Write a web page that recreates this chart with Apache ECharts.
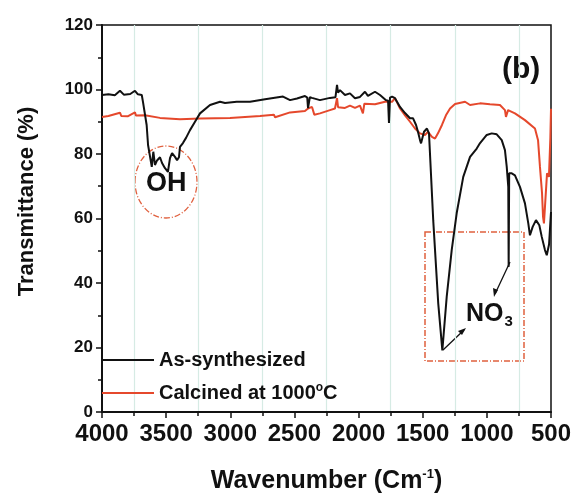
<!DOCTYPE html>
<html>
<head>
<meta charset="utf-8">
<script src="https://cdn.jsdelivr.net/npm/echarts@6/dist/echarts.min.js"></script>
<style>
  html, body { margin: 0; padding: 0; background: #fff; }
  #main { width: 577px; height: 503px; }
</style>
</head>
<body>
<div id="main"></div>
<script>
// FTIR spectra, wavenumber (cm-1) vs transmittance (%)
const asSynthWn = [4000, 3950, 3900, 3860, 3830, 3780, 3743, 3720, 3690, 3680, 3652, 3641, 3612, 3600, 3587, 3571, 3548, 3532, 3509, 3486, 3470, 3454, 3431, 3415, 3400, 3392, 3369, 3345, 3314, 3275, 3236, 3158, 3080, 3041, 2950, 2846, 2729, 2589, 2534, 2480, 2418, 2400, 2394, 2380, 2363, 2301, 2223, 2180, 2168, 2160, 2145, 2106, 2067, 2028, 1989, 1950, 1927, 1872, 1833, 1786, 1770, 1763, 1755, 1739, 1716, 1677, 1638, 1599, 1576, 1552, 1537, 1521, 1513, 1490, 1467, 1451, 1418, 1379, 1347, 1313, 1274, 1235, 1184, 1131, 1079, 1053, 1001, 962, 923, 884, 859, 845, 833, 830, 826, 806, 781, 742, 703, 677, 664, 643, 617, 591, 572, 547, 533, 515, 500];
const asSynthT = [98.3, 98.5, 98.2, 99.6, 98.4, 98.6, 99.6, 98.5, 98.3, 96, 89, 82.8, 76, 80.7, 76.6, 78, 79, 77.2, 75.6, 74.5, 78.7, 80.3, 79.1, 78.1, 79, 82.2, 83.4, 85, 87.4, 90, 92.6, 95.2, 96.2, 95.8, 96.2, 96.2, 97, 97.8, 96.7, 97.2, 98, 97.5, 94.2, 97.6, 97.4, 96.7, 97.4, 97.6, 101.4, 99, 99.8, 98.3, 98.8, 97.3, 97.7, 99.3, 98, 99.3, 98.3, 96.7, 96.5, 89.6, 97.5, 97.8, 97.3, 94.6, 92.7, 91.1, 91.1, 89, 86.9, 84.3, 83.3, 86.9, 87.9, 86.4, 59.4, 33.7, 19.1, 35.7, 50.2, 61.7, 72.9, 79.1, 81.7, 83.4, 85.9, 86.4, 86.1, 84.3, 81.2, 76, 69.8, 45, 74, 74, 73.4, 69.8, 64.7, 58.5, 54.8, 57.4, 59.5, 57.9, 54.3, 50.2, 48.6, 52, 62];

const calcinedWn = [4000, 3950, 3860, 3850, 3800, 3743, 3735, 3665, 3548, 3392, 3236, 3002, 2768, 2660, 2651, 2534, 2418, 2394, 2363, 2345, 2301, 2223, 2184, 2168, 2160, 2106, 2067, 2028, 1989, 1966, 1955, 1872, 1794, 1739, 1716, 1700, 1677, 1638, 1599, 1560, 1521, 1482, 1459, 1428, 1404, 1381, 1350, 1319, 1287, 1248, 1170, 1131, 1053, 976, 898, 859, 851, 835, 781, 703, 625, 601, 586, 570, 562, 555, 547, 531, 516, 505, 500];
const calcinedT = [91.5, 91.8, 92.8, 91.8, 91.7, 92.9, 91.9, 92, 91.2, 90.8, 91, 91.2, 91.8, 92.2, 91.4, 92.9, 93.3, 94.1, 94.6, 92.2, 92.6, 93.6, 94.1, 97.3, 94.5, 94.3, 95, 94.3, 95, 92.6, 95.6, 95.4, 96.2, 96.2, 97.3, 96, 94.1, 92, 90, 87.9, 86.4, 85.9, 86.9, 85.3, 84.8, 86.4, 89, 92, 94.1, 95.5, 96.2, 95.2, 95.7, 95.4, 95.2, 93.6, 91.5, 93.6, 92.6, 90.5, 87.9, 84.3, 76, 67.9, 60.5, 58.5, 63.6, 74, 72.9, 85, 94];

const seriesNames = ['As-synthesized', 'Calcined at 1000°C'];

const zip = (xs, ys) => xs.map((x, i) => [x, ys[i]]);
const FONT = 'Arial, "Liberation Sans", sans-serif';
const RED = '#e5482c';
const ANNO = '#e0603e';

const chart = echarts.init(document.getElementById('main'), null, { renderer: 'canvas' });

chart.setOption({
  backgroundColor: '#fff',
  animation: false,
  textStyle: { fontFamily: FONT },
  grid: {
    left: 102, right: 26, top: 25, bottom: 91,
    show: true, borderColor: '#111', borderWidth: 1.5,
    containLabel: false
  },
  legend: {
    orient: 'vertical',
    left: 102, top: 350, padding: 0,
    icon: 'rect',
    itemWidth: 52, itemHeight: 2, itemGap: 12,
    data: seriesNames,
    formatter: name => name.replace('°', '{sup|o}'),
    textStyle: {
      fontFamily: FONT, fontSize: 20, fontWeight: 'bold', color: '#111',
      rich: { sup: { fontFamily: FONT, fontSize: 12, fontWeight: 'bold', color: '#111', padding: [0, 0, 10, 0] } }
    }
  },
  xAxis: {
    type: 'value', inverse: true, min: 500, max: 4000, interval: 500,
    name: 'Wavenumber (Cm{sup|-1})',
    nameLocation: 'middle', nameGap: 56,
    nameTextStyle: {
      fontFamily: FONT, fontSize: 25, fontWeight: 'bold', color: '#111',
      rich: { sup: { fontFamily: FONT, fontSize: 13, fontWeight: 'bold', color: '#111', padding: [0, 0, 14, 0] } }
    },
    axisLine: { onZero: false, lineStyle: { color: '#111', width: 2 } },
    axisTick: { inside: false, length: 6, lineStyle: { color: '#111', width: 1.5 } },
    minorTick: { show: true, splitNumber: 2, length: 4, lineStyle: { color: '#111', width: 1.5 } },
    axisLabel: {
      margin: 10, fontFamily: FONT, fontSize: 24, fontWeight: 'bold', color: '#111',
      formatter: v => String(v)
    },
    splitLine: { show: false },
    minorSplitLine: { show: true, lineStyle: { color: '#d6ebe4', width: 1.2 } }
  },
  yAxis: {
    type: 'value', min: 0, max: 120, interval: 20,
    name: 'Transmittance (%)',
    nameLocation: 'middle', nameGap: 64,
    nameTextStyle: { fontFamily: FONT, fontSize: 22, fontWeight: 'bold', color: '#111', padding: [0, 0, 0, 34] },
    axisLine: { lineStyle: { color: '#111', width: 2 } },
    axisTick: { inside: false, length: 6, lineStyle: { color: '#111', width: 1.5 } },
    minorTick: { show: true, splitNumber: 2, length: 4, lineStyle: { color: '#111', width: 1.5 } },
    axisLabel: { margin: 9, fontFamily: FONT, fontSize: 17, fontWeight: 'bold', color: '#111' },
    splitLine: { show: false }
  },
  series: [
    {
      name: seriesNames[0], type: 'line', data: zip(asSynthWn, asSynthT),
      symbol: 'none', z: 3,
      lineStyle: { color: '#111', width: 2 }, itemStyle: { color: '#111' }
    },
    {
      name: seriesNames[1], type: 'line', data: zip(calcinedWn, calcinedT),
      symbol: 'none', z: 2,
      lineStyle: { color: RED, width: 2 }, itemStyle: { color: RED }
    }
  ],
  graphic: [
    { type: 'text', left: 502, top: 55, style: { text: '(b)', font: 'bold 30px ' + FONT, fill: '#111' } },
    { type: 'text', left: 146, top: 170, style: { text: 'OH', font: 'bold 27px ' + FONT, fill: '#111' } },
    { type: 'ellipse', shape: { cx: 166, cy: 182, rx: 31, ry: 36 }, style: { fill: 'none', stroke: ANNO, lineWidth: 1.3, lineDash: [6, 2, 1, 2] } },
    { type: 'rect', shape: { x: 425, y: 232, width: 99, height: 129 }, style: { fill: 'none', stroke: ANNO, lineWidth: 1.5, lineDash: [6, 2, 1, 2] } },
    {
      type: 'text', left: 466, top: 302,
      style: {
        text: 'NO{sub|3}', font: 'bold 25px ' + FONT, fill: '#111',
        rich: { sub: { font: 'bold 15px ' + FONT, fill: '#111', padding: [14, 0, 0, 1] } }
      }
    },
    { type: 'line', shape: { x1: 443, y1: 350, x2: 464, y2: 330 }, style: { stroke: '#111', lineWidth: 1.3 } },
    { type: 'polygon', shape: { points: [[466, 328], [458, 331], [462, 335]] }, style: { fill: '#111' } },
    { type: 'line', shape: { x1: 510, y1: 262, x2: 495, y2: 294 }, style: { stroke: '#111', lineWidth: 1.3 } },
    { type: 'polygon', shape: { points: [[494, 297], [493, 288], [498, 290]] }, style: { fill: '#111' } }
  ]
});
</script>
</body>
</html>
